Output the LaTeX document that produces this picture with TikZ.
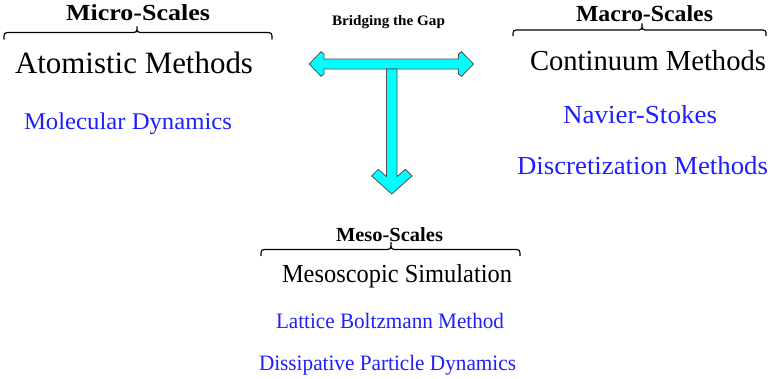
\documentclass[tikz,border=0pt]{standalone}
\usepackage{fontspec}
\setmainfont{Liberation Serif}
\usepackage{graphicx}
\tikzset{
  txt/.style={anchor=base west, inner sep=0pt, outer sep=0pt},
  bl/.style={text={rgb,255:red,30;green,30;blue,255}},
  cyanarrow/.style={fill={rgb,255:red,0;green,255;blue,255}, draw={rgb,255:red,80;green,80;blue,80}, line width=0.8pt, line join=miter},
  bracepath/.style={draw=black, line width=1.2pt}
}
\newcommand{\ftext}[3]{\resizebox{#1pt}{\height}{\fontsize{#2}{#2}\selectfont #3}}
\newcommand{\mybrace}[6]{%
  \draw[bracepath] (#1,#4) .. controls (#1,#5) .. (#1+7,#5) -- (#3-7,#5)
    .. controls (#3,#5) .. (#3,#6) .. controls (#3,#5) .. (#3+7,#5)
    -- (#2-7,#5) .. controls (#2,#5) .. (#2,#4);}
\begin{document}
\begin{tikzpicture}[x=1pt,y=-1pt]
\useasboundingbox (0,0) rectangle (768,378);
% headings
\node[txt] (micro) at (66,20.5) {\ftext{144}{23}{\bfseries Micro-Scales}};
\node[txt] (bridge) at (332,25) {\ftext{113}{14.5}{\bfseries Bridging the Gap}};
\node[txt] (macro) at (576,21) {\ftext{137}{23}{\bfseries Macro-Scales}};
\node[txt] (meso) at (336,241) {\ftext{107}{20}{\bfseries Meso-Scales}};
% main titles
\node[txt] (atom) at (15,73) {\ftext{238}{31}{Atomistic Methods}};
\node[txt] (cont) at (530,70.5) {\ftext{236}{29}{Continuum Methods}};
\node[txt] (mesosim) at (282,282) {\ftext{230}{26}{Mesoscopic Simulation}};
% blue items
\node[txt,bl] (md) at (24,129) {\ftext{208}{24}{Molecular Dynamics}};
\node[txt,bl] (ns) at (563,123) {\ftext{154}{26}{Navier-Stokes}};
\node[txt,bl] (dm) at (517,174) {\ftext{251}{26}{Discretization Methods}};
\node[txt,bl] (lbm) at (276,328) {\ftext{228}{22}{Lattice Boltzmann Method}};
\node[txt,bl] (dpd) at (259,370) {\ftext{257}{22}{Dissipative Particle Dynamics}};
% braces
\mybrace{4}{272}{137}{39.5}{32.5}{26.5}
\mybrace{513}{766}{642}{36}{30}{23.5}
\mybrace{261}{520}{391}{256}{249.5}{242}
% arrows
\draw[cyanarrow] (309.3,64) -- (321,51.7) -- (324,54) -- (324,59) -- (458.5,59)
  -- (458.5,54) -- (461.5,51.7) -- (473.5,64) -- (461.5,76.3) -- (458.5,74)
  -- (458.5,69) -- (324,69) -- (324,74) -- (321,76.3) -- cycle;
\draw[cyanarrow] (386.5,69) -- (386.5,176.6) -- (378.3,169.3) -- (371.7,176)
  -- (391.8,194) -- (412,176) -- (405.3,169.3) -- (397,176.6) -- (397,69) -- cycle;
\end{tikzpicture}
\end{document}
